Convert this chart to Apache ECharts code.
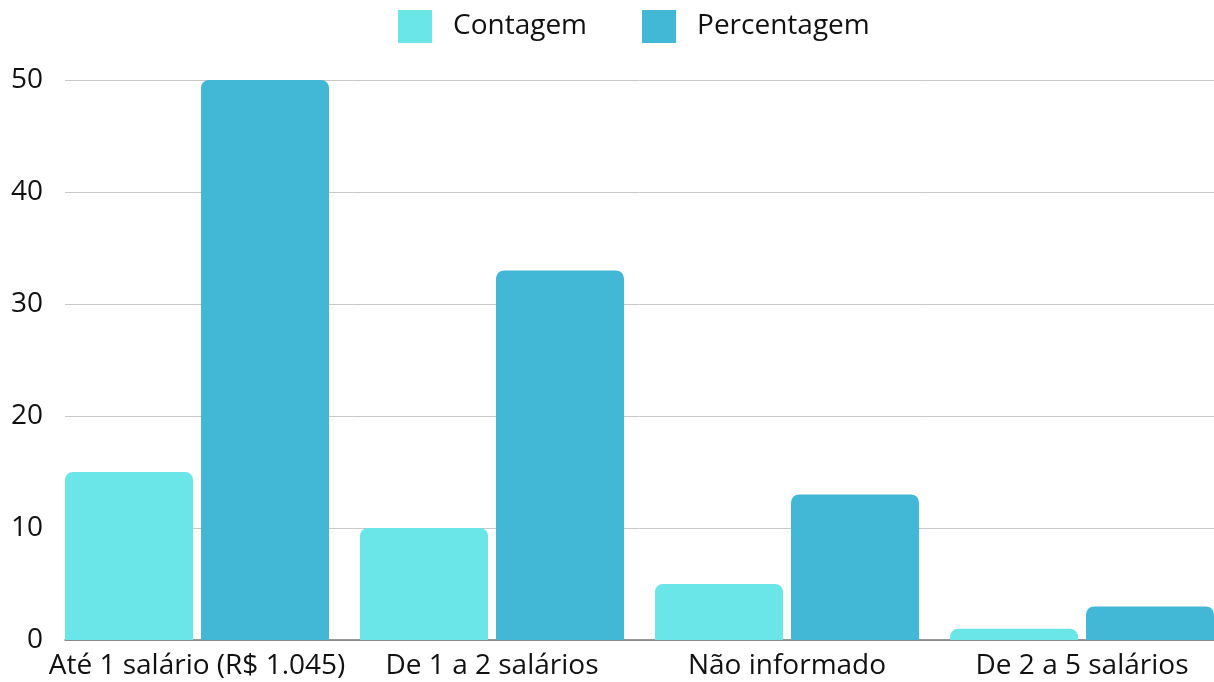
<!DOCTYPE html>
<html><head><meta charset="utf-8">
<script src="https://cdn.jsdelivr.net/npm/echarts@6/dist/echarts.min.js"></script>
<style>html,body{margin:0;padding:0;background:#fff}#c{width:1214px;height:682px}</style>
</head><body><div id="c"></div>
<script>
const categories = ['Até 1 salário (R$ 1.045)', 'De 1 a 2 salários', 'Não informado', 'De 2 a 5 salários'];
const contagem = [15, 10, 5, 1];
const percentagem = [50, 33, 13, 3];
const seriesNames = ['Contagem', 'Percentagem'];
const yTicks = [0, 10, 20, 30, 40, 50];

const FONT = '"Open Sans", sans-serif';
const chart = echarts.init(document.getElementById('c'), null, {renderer: 'canvas'});
chart.setOption({
  animation: false,
  color: ['#6ae5e8', '#42b7d6'],
  legend: {
    data: seriesNames,
    top: 5, left: 393,
    itemWidth: 34, itemHeight: 33, itemGap: 55,
    icon: 'rect',
    textStyle: {fontFamily: FONT, fontSize: 28, color: '#111', padding: [0, 0, 0, 16]}
  },
  grid: [
    {left: 65, right: 0, top: 80, bottom: 42, containLabel: false, outerBoundsMode: 'none'},
    {left: 49.5, width: 1180, top: 80, bottom: 42, containLabel: false, outerBoundsMode: 'none'}
  ],
  xAxis: [
    {type: 'category', gridIndex: 0, data: categories, axisLabel: {show: false}, axisTick: {show: false},
     axisLine: {show: true, lineStyle: {color: '#777', width: 1.5}}, z: 0},
    {type: 'category', gridIndex: 1, data: categories, axisTick: {show: false}, axisLine: {show: false},
     axisLabel: {fontFamily: FONT, fontSize: 28, color: '#111', margin: 12, interval: 0}}
  ],
  yAxis: [
    {type: 'value', gridIndex: 0, min: yTicks[0], max: yTicks[yTicks.length - 1], interval: 10,
     axisLabel: {fontFamily: FONT, fontSize: 28, color: '#111', margin: 22},
     splitLine: {lineStyle: {color: '#c8c8c8', width: 1}}, axisLine: {show: false}, axisTick: {show: false}},
    {type: 'value', gridIndex: 1, min: yTicks[0], max: yTicks[yTicks.length - 1], interval: 10,
     show: false, splitLine: {show: false}}
  ],
  series: [
    {name: seriesNames[0], type: 'bar', xAxisIndex: 1, yAxisIndex: 1, data: contagem, z: 5,
     barWidth: 128, barGap: '6.25%', itemStyle: {borderRadius: [8, 8, 0, 0]}},
    {name: seriesNames[1], type: 'bar', xAxisIndex: 1, yAxisIndex: 1, data: percentagem, z: 5,
     barWidth: 128, barGap: '6.25%', itemStyle: {borderRadius: [8, 8, 0, 0]}}
  ]
});
</script></body></html>
